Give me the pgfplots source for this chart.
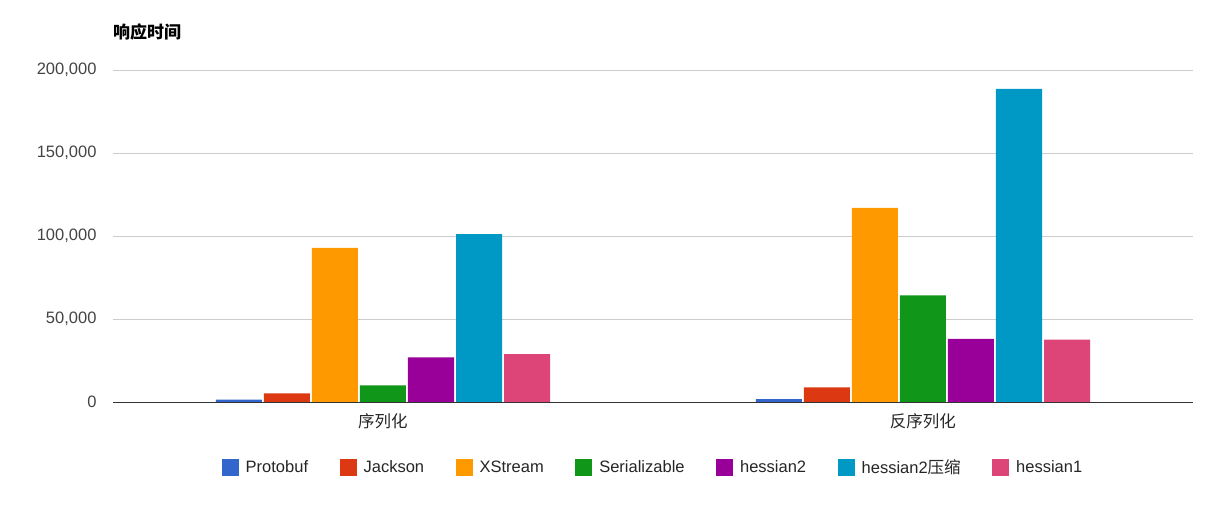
\documentclass[border=0pt]{standalone}
\usepackage{fontspec}
\setmainfont{Liberation Sans}
\newfontfamily\cjk{Noto Sans CJK SC}
\usepackage{pgfplots}
\pgfplotsset{compat=1.18}
\definecolor{c1}{HTML}{3366CC}
\definecolor{c2}{HTML}{DC3912}
\definecolor{c3}{HTML}{FF9900}
\definecolor{c4}{HTML}{109618}
\definecolor{c5}{HTML}{990099}
\definecolor{c6}{HTML}{0099C6}
\definecolor{c7}{HTML}{DD4477}
\definecolor{gridc}{HTML}{CCCCCC}
\definecolor{tickc}{HTML}{444444}
\definecolor{axc}{HTML}{333333}
\begin{document}
\begin{tikzpicture}
\path[use as bounding box] (0,0) rectangle (1205pt,514pt);
\begin{axis}[
  at={(113pt,112pt)}, anchor=south west,
  scale only axis, width=1080pt, height=332pt,
  ymin=0, ymax=200000, xmin=-0.5, xmax=1.5,
  ytick={0,50000,100000,150000,200000},
  yticklabels={0,{50,000},{100,000},{150,000},{200,000}},
  scaled y ticks=false,
  xtick={0,1}, xticklabels={{\cjk 序列化},{\cjk 反序列化}},
  ymajorgrids, grid style={gridc, line width=0.8pt},
  axis lines*=left,
  y axis line style={draw=none},
  x axis line style={axc, line width=0.8pt, -},
  major tick length=0pt,
  ticklabel style={font=\fontsize{16.5}{19}\selectfont},
  yticklabel style={tickc, xshift=-13pt},
  xticklabel style={black!85, yshift=-8pt},
  ybar=2pt, bar width=46pt,
  legend style={at={(0.5,-0.196)}, anchor=center, draw=none,
    font=\fontsize{16.5}{19}\selectfont, text=black!85,
    /tikz/every odd column/.append style={column sep=5pt},
    /tikz/every even column/.append style={column sep=29.5pt}},
  legend columns=-1,
  legend image code/.code={\path[#1, draw=none] (0pt,-8.5pt) rectangle (17pt,8.5pt);},
]
\addplot[fill=c1, draw=none] coordinates {(0,1400) (1,1800)};
\addplot[fill=c2, draw=none] coordinates {(0,5200) (1,8800)};
\addplot[fill=c3, draw=none] coordinates {(0,92800) (1,117000)};
\addplot[fill=c4, draw=none] coordinates {(0,10000) (1,64200)};
\addplot[fill=c5, draw=none] coordinates {(0,26900) (1,38100)};
\addplot[fill=c6, draw=none] coordinates {(0,101200) (1,188600)};
\addplot[fill=c7, draw=none] coordinates {(0,28900) (1,37500)};
\legend{Protobuf, Jackson, XStream, Serializable, hessian2, hessian2{\cjk 压缩}, hessian1}
\end{axis}
\node[anchor=west, inner sep=0pt, font=\cjk\bfseries\fontsize{17}{20}\selectfont] at (113pt,482pt) {响应时间};
\end{tikzpicture}
\end{document}
